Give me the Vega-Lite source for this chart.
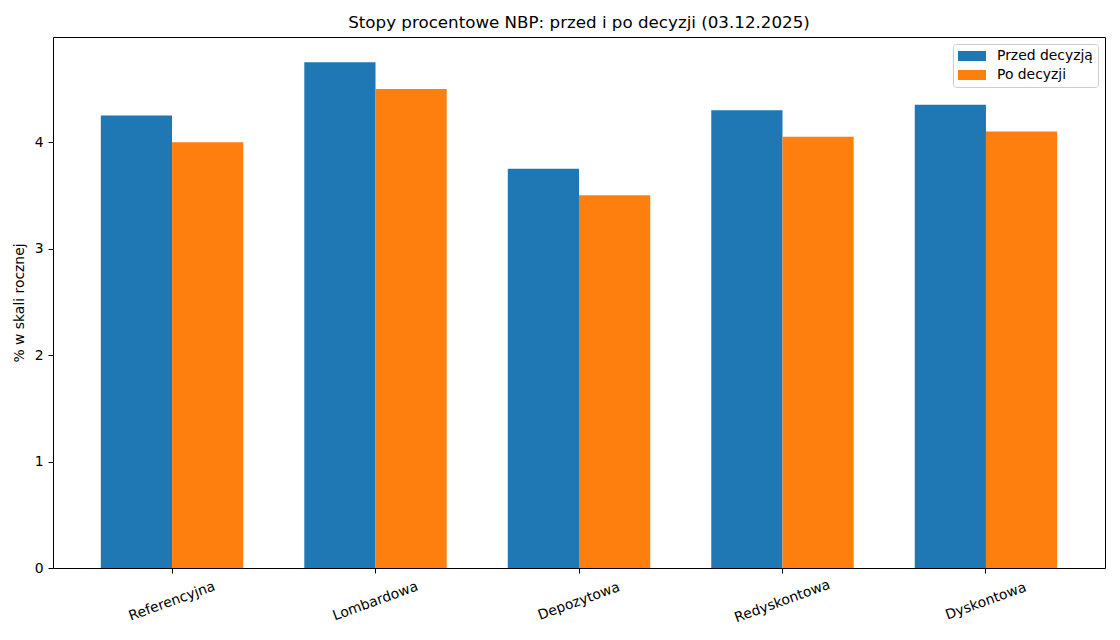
{
  "$schema": "https://vega.github.io/schema/vega-lite/v6.json",
  "autosize": "none",
  "width": 1052,
  "height": 531,
  "padding": {"left": 53, "top": 37, "right": 15, "bottom": 72},
  "background": "white",
  "config": {
    "font": "DejaVu Sans",
    "view": {"stroke": "black", "strokeWidth": 1},
    "axis": {
      "domain": false,
      "grid": false,
      "ticks": true,
      "tickColor": "black",
      "tickSize": 5,
      "labelColor": "black",
      "labelFontSize": 13.9,
      "titleColor": "black",
      "titleFontSize": 13.9,
      "titleFontWeight": "normal"
    }
  },
  "title": {
    "text": "Stopy procentowe NBP: przed i po decyzji (03.12.2025)",
    "fontSize": 16.7,
    "fontWeight": "normal",
    "color": "black",
    "anchor": "middle",
    "offset": 5
  },
  "data": {
    "values": [
      {"stopa": "Referencyjna", "seria": "Przed decyzją", "wartosc": 4.25},
      {"stopa": "Referencyjna", "seria": "Po decyzji", "wartosc": 4.00},
      {"stopa": "Lombardowa", "seria": "Przed decyzją", "wartosc": 4.75},
      {"stopa": "Lombardowa", "seria": "Po decyzji", "wartosc": 4.50},
      {"stopa": "Depozytowa", "seria": "Przed decyzją", "wartosc": 3.75},
      {"stopa": "Depozytowa", "seria": "Po decyzji", "wartosc": 3.50},
      {"stopa": "Redyskontowa", "seria": "Przed decyzją", "wartosc": 4.30},
      {"stopa": "Redyskontowa", "seria": "Po decyzji", "wartosc": 4.05},
      {"stopa": "Dyskontowa", "seria": "Przed decyzją", "wartosc": 4.35},
      {"stopa": "Dyskontowa", "seria": "Po decyzji", "wartosc": 4.10}
    ]
  },
  "mark": {"type": "bar"},
  "encoding": {
    "x": {
      "field": "stopa",
      "type": "nominal",
      "sort": ["Referencyjna", "Lombardowa", "Depozytowa", "Redyskontowa", "Dyskontowa"],
      "scale": {"paddingInner": 0.3, "paddingOuter": 0.235},
      "axis": {
        "title": null,
        "labelAngle": -20,
        "labelAlign": "center",
        "labelBaseline": "middle",
        "labelPadding": 28,
        "bandPosition": 0.5
      }
    },
    "xOffset": {
      "field": "seria",
      "type": "nominal",
      "sort": ["Przed decyzją", "Po decyzji"],
      "scale": {"paddingInner": 0, "paddingOuter": 0}
    },
    "y": {
      "field": "wartosc",
      "type": "quantitative",
      "scale": {"domain": [0, 4.9875], "nice": false, "zero": true},
      "axis": {
        "title": "% w skali rocznej",
        "values": [0, 1, 2, 3, 4],
        "labelPadding": 5,
        "titlePadding": 8
      }
    },
    "color": {
      "field": "seria",
      "type": "nominal",
      "sort": ["Przed decyzją", "Po decyzji"],
      "scale": {"domain": ["Przed decyzją", "Po decyzji"], "range": ["#1f77b4", "#ff7f0e"]},
      "legend": {
        "title": null,
        "orient": "top-right",
        "offset": 7,
        "padding": 5,
        "strokeColor": "#cccccc",
        "fillColor": "white",
        "cornerRadius": 3,
        "symbolType": "M-1,-0.714H3V0.714H-1Z",
        "symbolSize": 196,
        "symbolStrokeWidth": 0,
        "symbolOpacity": 1,
        "labelFontSize": 13.9,
        "labelColor": "black",
        "labelOffset": 25,
        "rowPadding": 5
      }
    }
  }
}
